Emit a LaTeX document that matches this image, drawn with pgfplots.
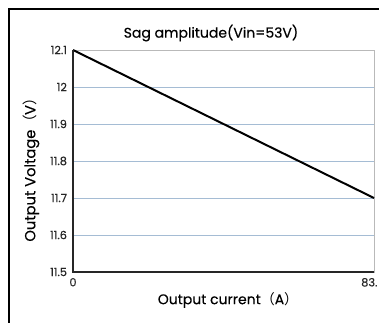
\documentclass[border=0pt]{standalone}
\usepackage{fontspec}
\setmainfont{Poppins}[FakeBold=0.3]
\newfontfamily\cjk{Noto Sans CJK SC}
\usepackage{pgfplots}
\pgfplotsset{compat=1.18}
\definecolor{gridc}{RGB}{165,188,212}
\definecolor{boxc}{RGB}{185,185,185}
\begin{document}
\begin{tikzpicture}
\clip (0,0) rectangle (284.25pt,241.5pt);
\draw[black, line width=0.8pt] (6.75pt,-5pt) -- (6.75pt,234.75pt) -- (290pt,234.75pt);
\begin{axis}[
  at={(54.75pt,37.5pt)}, anchor=south west,
  scale only axis, width=225.75pt, height=166.5pt,
  xmin=0, xmax=83.3, ymin=11.5, ymax=12.1,
  xtick={0}, xticklabels={0},
  extra x ticks={83.3}, extra x tick labels={83.},
  extra x tick style={xticklabel style={xshift=-3.5pt}},
  ytick={11.5,11.6,11.7,11.8,11.9,12,12.1},
  yticklabels={11.5,11.6,11.7,11.8,11.9,12,12.1},
  ymajorgrids, grid style={gridc, line width=0.6pt},
  major tick length=0pt,
  axis line style={boxc, line width=0.6pt},
  /pgf/number format/assume math mode=true,
  tick label style={font=\fontsize{8.5}{10}\selectfont, black!85},
  yticklabel style={xshift=-1pt},
  xticklabel style={yshift=-1pt},
  clip=false,
]
\addplot[black, line width=1.5pt] coordinates {(0,12.1) (83.3,11.7)};
\draw[black!85, line width=1.1pt] (rel axis cs:0,1) -- (rel axis cs:0,0) -- (rel axis cs:1,0);
\end{axis}
\node[font=\fontsize{10.5}{12}\selectfont] at (158.25pt,216.75pt) {Sag amplitude(Vin=53V)};
\node[font=\fontsize{10.5}{12}\selectfont] at (171pt,16.5pt) {Output current{\cjk（}A{\cjk）}};
\node[font=\fontsize{11}{13}\selectfont, rotate=90] at (23.25pt,117pt) {Output Voltage{\cjk（}V{\cjk）}};
\end{tikzpicture}
\end{document}
